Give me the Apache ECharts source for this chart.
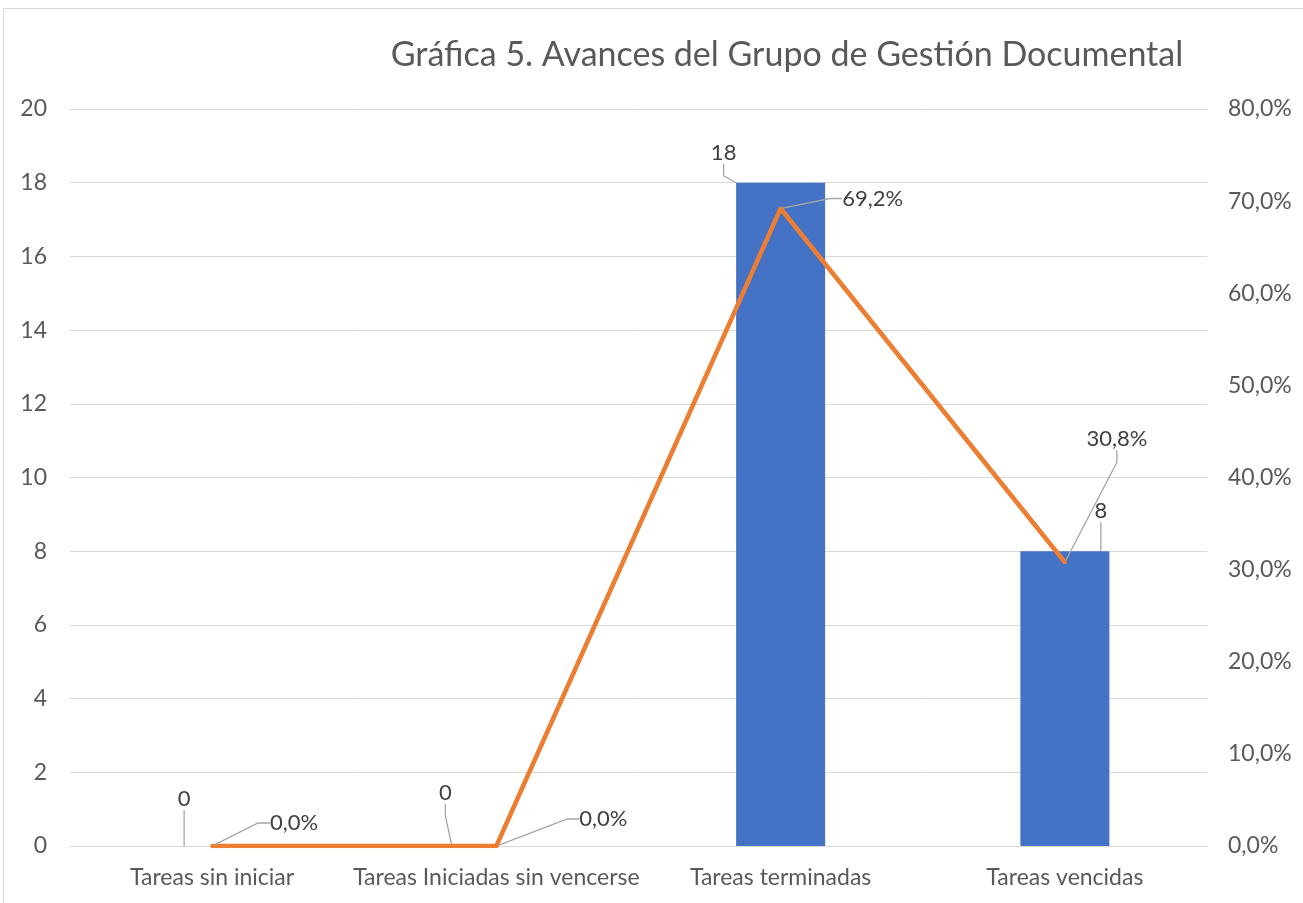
<!DOCTYPE html>
<html>
<head>
<meta charset="utf-8">
<script src="https://cdn.jsdelivr.net/npm/echarts@6/dist/echarts.min.js"></script>
<style>
  body { margin: 0; background: #fff; }
  #chart { width: 1303px; height: 903px; }
</style>
</head>
<body>
<div id="chart"></div>
<script>
  // categorías y valores
  const categories = ["Tareas sin iniciar", "Tareas Iniciadas sin vencerse", "Tareas terminadas", "Tareas vencidas"];
  const tareas = [0, 0, 18, 8];
  const porcentaje = [0, 0, 0.692, 0.308];

  // desplazamiento de etiquetas (dx, dy)
  const barLabelShift = [[-28, -31], [-51, -37], [-57, -14], [36, -24]];
  const lineLabelShift = [[82, -5], [107, -9], [92, 8], [52, -105]];

  const fontFam = "Lato, 'Open Sans', sans-serif";
  const chart = echarts.init(document.getElementById("chart"));

  const pct = v => (v * 100).toFixed(1).replace(".", ",") + "%";

  chart.setOption({
    animation: false,
    textStyle: { fontFamily: fontFam },
    title: {
      text: "Gráfica 5. Avances del Grupo de Gestión Documental",
      left: 782,
      top: 33,
      textAlign: "center",
      textStyle: { fontSize: 34, fontWeight: "normal", color: "#595959", fontFamily: fontFam }
    },
    graphic: [{
      type: "rect",
      shape: { x: 3.5, y: 8.5, width: 1400, height: 1000 },
      style: { fill: "none", stroke: "#D9D9D9", lineWidth: 1 },
      silent: true
    }],
    grid: { left: 70, right: 96, top: 109, bottom: 57 },
    xAxis: {
      type: "category",
      data: categories,
      axisLine: { lineStyle: { color: "#D9D9D9" } },
      axisTick: { show: false },
      axisLabel: { color: "#595959", fontSize: 23, margin: 20, interval: 0 }
    },
    yAxis: [
      {
        type: "value",
        min: 0, max: 20, interval: 2,
        axisLine: { show: false },
        axisTick: { show: false },
        splitLine: { lineStyle: { color: "#D9D9D9" } },
        axisLabel: { color: "#595959", fontSize: 23, margin: 23 }
      },
      {
        type: "value",
        min: 0, max: 0.8, interval: 0.1,
        axisLine: { show: false },
        axisTick: { show: false },
        splitLine: { show: false },
        axisLabel: { color: "#595959", fontSize: 23, margin: 21, formatter: pct }
      }
    ],
    series: [
      {
        name: "Tareas",
        type: "bar",
        data: tareas,
        barWidth: 89,
        itemStyle: { color: "#4472C4" },
        label: {
          show: true, position: "top", color: "#404040", fontSize: 22
        },
        labelLine: { show: true, length2: 12, lineStyle: { color: "#A6A6A6", width: 1.3 } },
        labelLayout: p => ({ dx: barLabelShift[p.dataIndex][0], dy: barLabelShift[p.dataIndex][1] })
      },
      {
        name: "Porcentaje",
        type: "line",
        yAxisIndex: 1,
        data: porcentaje,
        symbol: "circle",
        symbolSize: 4,
        itemStyle: { color: "#ED7D31" },
        lineStyle: { color: "#ED7D31", width: 4.5 },
        label: {
          show: true, position: "top", color: "#404040", fontSize: 22,
          formatter: p => pct(p.value)
        },
        labelLine: { show: true, length2: 12, lineStyle: { color: "#A6A6A6", width: 1.3 } },
        labelLayout: p => ({ dx: lineLabelShift[p.dataIndex][0], dy: lineLabelShift[p.dataIndex][1] })
      }
    ]
  });
</script>
</body>
</html>
